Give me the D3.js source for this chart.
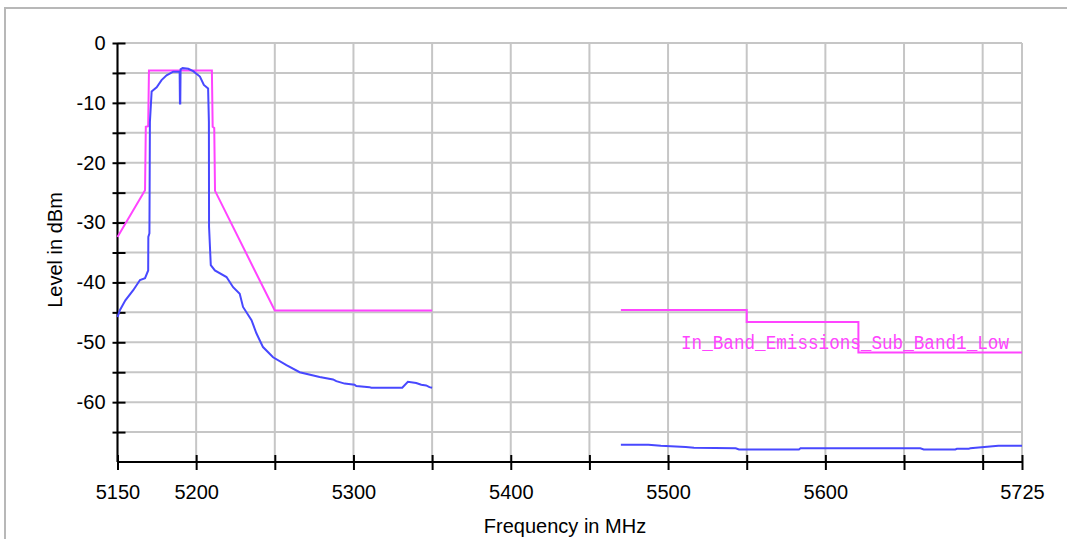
<!DOCTYPE html>
<html>
<head>
<meta charset="utf-8">
<script src="https://cdn.jsdelivr.net/npm/d3@7"></script>
<style>
  body { margin: 0; background: #fff; }
  svg { display: block; font-family: "Liberation Sans", Arial, sans-serif; }
</style>
</head>
<body>
<div id="chart"></div>
<script>
// tick values
const xTicks = [5150, 5200, 5250, 5300, 5350, 5400, 5450, 5500, 5550, 5600, 5650, 5700, 5725]
const xLabels = [5150, 5200, 5300, 5400, 5500, 5600, 5725]
const yTicks = [0, -5, -10, -15, -20, -25, -30, -35, -40, -45, -50, -55, -60, -65]
const yLabels = [0, -10, -20, -30, -40, -50, -60]

// limit line (magenta), two pieces
const limitLowFreq = [5150, 5167.5, 5168, 5169.5, 5170, 5210, 5210.5, 5211.5, 5212, 5250, 5350]
const limitLowLevel = [-32.4, -24.6, -14, -13.9, -4.6, -4.6, -14, -14.2, -24.7, -44.7, -44.7]
const limitHighFreq = [5470, 5550, 5550, 5621, 5621, 5725]
const limitHighLevel = [-44.6, -44.6, -46.6, -46.6, -51.7, -51.7]

// measured trace (blue), two pieces
const traceLowFreq = [5150, 5151.6, 5155, 5160, 5164.3, 5167.5, 5169.5, 5169.6, 5170.3, 5170.6, 5171.7,
  5174.9, 5178, 5181.2, 5185.4, 5189.5, 5189.7, 5189.9, 5190.1, 5191.4, 5195, 5198.1, 5202.4, 5204.9,
  5207.6, 5208.1, 5208.2, 5209.3, 5211.9, 5219.3, 5223.5, 5227.7, 5229.8, 5235.2, 5238.3, 5242.5,
  5248.9, 5257.4, 5265.8, 5278.5, 5287, 5289.1, 5294.4, 5300.7, 5301.8, 5310.2, 5311.3, 5331,
  5334.6, 5339.9, 5343.1, 5346.2, 5348.3, 5350]
const traceLowLevel = [-45.8, -44.6, -43, -41.3, -39.6, -39.3, -38, -32.4, -31.8, -13.2, -8.1,
  -7.4, -6.2, -5.4, -4.8, -4.8, -10.1, -10.1, -4.4, -4.2, -4.3, -4.7, -5.6, -7,
  -7.6, -13.2, -30.7, -37.1, -38, -39.1, -40.8, -41.9, -44.1, -46.3, -48.5, -50.8,
  -52.5, -53.8, -55, -55.8, -56.2, -56.5, -56.9, -57.1, -57.3, -57.5, -57.6, -57.6,
  -56.6, -56.8, -57.1, -57.2, -57.5, -57.6]
const traceHighFreq = [5470, 5487.5, 5495.4, 5511.2, 5516.5, 5543, 5545.1, 5583.2, 5584.2,
  5660.4, 5662.5, 5682.6, 5683.6, 5691.1, 5692.1, 5710, 5725]
const traceHighLevel = [-67.1, -67.1, -67.3, -67.5, -67.6, -67.7, -67.9, -67.9, -67.7,
  -67.7, -67.9, -67.9, -67.8, -67.8, -67.7, -67.3, -67.3]

const limitLabel = "In_Band_Emissions_Sub_Band1_Low"

const width = 1067, height = 539
const gridColor = "#c6c6c6"
const blue = "#4848ff"
const magenta = "#ff44ff"

const svg = d3.select("#chart").append("svg")
    .attr("width", width)
    .attr("height", height)

// outer frame (top and left edges only)
svg.append("path")
    .attr("d", "M5,539V8H1067")
    .attr("fill", "none")
    .attr("stroke", "#b8b8b8")
    .attr("stroke-width", 2)

const x = d3.scaleLinear().domain([5150, 5725]).range([117.5, 1022])
const y = d3.scaleLinear().domain([-70, 0]).range([462, 43])

// grid
const grid = svg.append("g").attr("stroke", gridColor).attr("stroke-width", 2)
grid.selectAll("line.h")
  .data(yTicks)
  .join("line")
    .attr("class", "h")
    .attr("x1", x(5150)).attr("x2", x(5725))
    .attr("y1", d => y(d)).attr("y2", d => y(d))
grid.selectAll("line.v")
  .data(xTicks)
  .join("line")
    .attr("class", "v")
    .attr("x1", d => x(d)).attr("x2", d => x(d))
    .attr("y1", y(0)).attr("y2", y(-70))

// axes
const xAxis = svg.append("g")
    .attr("transform", `translate(0,${y(-70)})`)
    .call(d3.axisBottom(x).tickValues(xTicks)
      .tickFormat(d => xLabels.includes(d) ? d : "")
      .tickSize(8).tickPadding(15))
const yAxis = svg.append("g")
    .attr("transform", `translate(${x(5150)},0)`)
    .call(d3.axisLeft(y).tickValues(yTicks)
      .tickFormat(d => yLabels.includes(d) ? d : "")
      .tickSize(5).tickPadding(7))

xAxis.select(".domain").attr("d", `M${x(5150)},0H${x(5725)}`)
yAxis.select(".domain").attr("d", `M0,${y(0)}V${y(-70)}`)
for (const ax of [xAxis, yAxis]) {
  ax.select(".domain").attr("stroke", "#000").attr("stroke-width", 2)
  ax.selectAll(".tick line").attr("stroke", "#000").attr("stroke-width", 2)
  ax.selectAll("text").attr("font-size", 20).attr("fill", "#000")
    .attr("font-family", "Liberation Sans, Arial, sans-serif")
}
xAxis.selectAll(".tick line").attr("y1", -7).attr("y2", 8)
yAxis.selectAll(".tick line").attr("x1", -5).attr("x2", 8)

// axis titles
svg.append("text")
    .attr("x", 565).attr("y", 533)
    .attr("text-anchor", "middle")
    .attr("font-size", 20)
    .text("Frequency in MHz")
svg.append("text")
    .attr("transform", "translate(62,250) rotate(-90)")
    .attr("text-anchor", "middle")
    .attr("font-size", 20)
    .text("Level in dBm")

// series
const line = d3.line().x(d => x(d[0])).y(d => y(d[1]))
const zip = (a, b) => a.map((v, i) => [v, b[i]])

const series = [
  { pts: zip(limitLowFreq, limitLowLevel), color: magenta },
  { pts: zip(limitHighFreq, limitHighLevel), color: magenta },
  { pts: zip(traceLowFreq, traceLowLevel), color: blue },
  { pts: zip(traceHighFreq, traceHighLevel), color: blue }
]
svg.append("g")
  .selectAll("path")
  .data(series)
  .join("path")
    .attr("d", d => line(d.pts))
    .attr("fill", "none")
    .attr("stroke", d => d.color)
    .attr("stroke-width", 2)

// limit line label
svg.append("text")
    .attr("x", 681).attr("y", 349)
    .attr("font-family", "Liberation Mono, monospace")
    .attr("font-size", 20)
    .attr("textLength", 328)
    .attr("lengthAdjust", "spacingAndGlyphs")
    .attr("fill", magenta)
    .text(limitLabel)
</script>
</body>
</html>
